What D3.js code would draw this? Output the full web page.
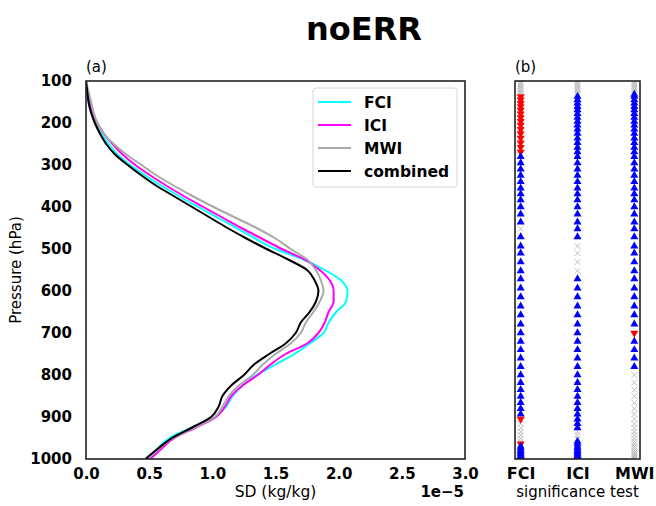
<!DOCTYPE html>
<html><head><meta charset="utf-8">
<script src="https://cdn.jsdelivr.net/npm/d3@7"></script>
<style>
body{margin:0;background:#fff;}
svg{font-family:"DejaVu Sans",sans-serif;}
</style></head>
<body><svg id="c" width="656" height="506"></svg>
<script>
// ---------- data ----------
const pressure = [100,125,150,175,200,225,250,275,300,325,350,375,400,425,450,475,500,525,550,575,600,625,650,675,700,725,750,775,800,825,850,875,900,925,950,975,1000];
const fci      = [0,0.01,0.02,0.04,0.08,0.12,0.18,0.25,0.35,0.47,0.60,0.74,0.89,1.04,1.19,1.34,1.50,1.72,1.89,2.02,2.07,2.06,1.98,1.92,1.88,1.77,1.65,1.50,1.35,1.24,1.16,1.11,1.02,0.84,0.66,0.57,0.50];
const ici      = [0,0.01,0.03,0.05,0.09,0.14,0.21,0.29,0.39,0.51,0.64,0.78,0.93,1.08,1.23,1.39,1.55,1.73,1.85,1.93,1.96,1.96,1.92,1.89,1.84,1.75,1.58,1.46,1.36,1.24,1.15,1.10,1.03,0.87,0.70,0.60,0.51];
const mwi      = [0,0.02,0.04,0.06,0.09,0.14,0.22,0.32,0.44,0.56,0.70,0.85,1.01,1.18,1.35,1.50,1.62,1.75,1.82,1.86,1.88,1.85,1.80,1.74,1.70,1.62,1.50,1.40,1.32,1.21,1.13,1.08,1.02,0.86,0.69,0.58,0.49];
const combined = [0,0.01,0.02,0.04,0.07,0.11,0.16,0.23,0.33,0.44,0.56,0.70,0.84,0.98,1.12,1.27,1.43,1.60,1.75,1.81,1.84,1.82,1.77,1.70,1.66,1.58,1.45,1.33,1.25,1.15,1.08,1.05,0.99,0.84,0.68,0.57,0.47];
const seriesNames  = ["FCI","ICI","MWI","combined"];
const seriesColors = ["#00ffff","#ff00ff","#a9a9a9","#000000"];
const xTicks = [0,0.5,1.0,1.5,2.0,2.5,3.0];
const yTicks = [100,200,300,400,500,600,700,800,900,1000];

// significance test levels (hPa) and result per instrument: u = blue up, d = red down, n = not significant
const sigLevels = [100,104,108,112,116,120,124,128,132,137,145,153,161,169,178,187,196,205,215,225,236,247,258,269,
  280,295,310,325,340,355,369,383,400,417,436,452,471,493,510,531,552,571,593,614,636,657,679,700,720,740,760,780,
  800,818,835,851,866,880,893,905,916,926,935,943,951,958,964,970,975,980,984,988,992,995,998,1000];
const sigFCI = "nnnnnnnnn" + "ddddddddddddddd" + "uuuuuuuuuuu" + "n" + "uuuuuuuuuuuuuuuuuuuuuuu" + "d" + "nnnnnn" + "d" + "uuuuuuuuuuuu";
const sigICI = "nnnnnnnnn" + "uuuuuuuuuuuuuuu" + "uuuuuuuuuuuu" + "u" + "nnnn" + "uuuuuuuuuuuuuuuuuu" + "uuu" + "nnn" + "uuuuuuuuuuuuuu";
const sigMWI = "nnnnnnnnu" + "uuuuuuuuuuuuuuu" + "uuuuuuuuuuuuuuuuuuuuuuu" + "d" + "uuuu" + "nnnnnnnnnnnnnnnnnnnnnnnn";
const sigCats = ["FCI","ICI","MWI"];
const sigData = [sigFCI, sigICI, sigMWI];

// ---------- drawing ----------
const svg = d3.select("#c");
const A = {l:86, r:465, t:81, b:459};
const B = {l:515, r:640, t:81, b:459};
const y = d3.scaleLinear().domain([100,1000]).range([A.t, A.b]);
const x = d3.scaleLinear().domain([0,3]).range([A.l, A.r]);

svg.append("text").attr("x",364).attr("y",40).attr("text-anchor","middle")
  .attr("font-size",32).attr("font-weight","bold").text("noERR");

const defs = svg.append("defs");
defs.append("clipPath").attr("id","ca").append("rect").attr("x",A.l).attr("y",A.t).attr("width",A.r-A.l).attr("height",A.b-A.t);
defs.append("clipPath").attr("id","cb").append("rect").attr("x",B.l).attr("y",B.t).attr("width",B.r-B.l).attr("height",B.b-B.t);

// panel a lines
const gA = svg.append("g").attr("clip-path","url(#ca)");
const allSeries = [fci, ici, mwi, combined];
const line = d3.line().x(d=>x(d[0])).y(d=>y(d[1])).curve(d3.curveMonotoneY);
allSeries.forEach((s,i)=>{
  gA.append("path").datum(s.map((v,j)=>[v,pressure[j]]))
    .attr("d",line).attr("fill","none").attr("stroke",seriesColors[i]).attr("stroke-width",2);
});

// axes panel a
const yAx = svg.append("g").attr("transform",`translate(${A.l},0)`)
  .call(d3.axisLeft(y).tickValues(yTicks).tickSize(0).tickPadding(14).tickFormat(d3.format("d")));
const xAx = svg.append("g").attr("transform",`translate(0,${A.b})`)
  .call(d3.axisBottom(x).tickValues(xTicks).tickSize(0).tickPadding(9).tickFormat(d3.format(".1f")));
[yAx,xAx].forEach(g=>{g.select(".domain").remove();
  g.selectAll("text").attr("font-size",15).attr("font-weight","bold").attr("fill","#000").attr("font-family","DejaVu Sans");});
svg.append("rect").attr("x",A.l).attr("y",A.t).attr("width",A.r-A.l).attr("height",A.b-A.t)
  .attr("fill","none").attr("stroke","#222").attr("stroke-width",1.6);

svg.append("text").attr("transform",`translate(21,${(A.t+A.b)/2}) rotate(-90)`).attr("text-anchor","middle")
  .attr("font-size",15).text("Pressure (hPa)");
svg.append("text").attr("x",(A.l+A.r)/2).attr("y",497).attr("text-anchor","middle").attr("font-size",15.5).text("SD (kg/kg)");
svg.append("text").attr("x",A.r-1).attr("y",497).attr("text-anchor","end").attr("font-size",15).attr("font-weight","bold").text("1e\u22125");
svg.append("text").attr("x",A.l).attr("y",72).attr("font-size",15).text("(a)");
svg.append("text").attr("x",B.l).attr("y",72).attr("font-size",15).text("(b)");

// legend
const lg = svg.append("g");
lg.append("rect").attr("x",313).attr("y",88).attr("width",144).attr("height",99).attr("rx",3)
  .attr("fill","#fff").attr("fill-opacity",0.8).attr("stroke","#d6d6d6").attr("stroke-width",1);
const legY = [102,125,148,171];
seriesNames.forEach((n,i)=>{
  lg.append("line").attr("x1",318).attr("x2",351).attr("y1",legY[i]).attr("y2",legY[i])
    .attr("stroke",seriesColors[i]).attr("stroke-width",2);
  lg.append("text").attr("x",364).attr("y",legY[i]).attr("dy","0.36em").attr("font-size",15.5)
    .attr("font-weight","bold").text(n);
});

// panel b
const xbPos = d3.scaleLinear().domain([-0.1,2.1]).range([B.l,B.r]);
const gB = svg.append("g").attr("clip-path","url(#cb)");
const tri = d3.symbol().type(d3.symbolTriangle).size(28);
sigCats.forEach((c,ci)=>{
  const cx = xbPos(ci);
  sigLevels.forEach((p,li)=>{
    if(sigData[ci][li]==="n"){
      const cy = y(p);
      gB.append("path").attr("d",`M${cx-2.8},${cy-2.8}L${cx+2.8},${cy+2.8}M${cx-2.8},${cy+2.8}L${cx+2.8},${cy-2.8}`)
        .attr("stroke","#b0b0b0").attr("stroke-width",0.8).attr("fill","none");
    }
  });
  sigLevels.forEach((p,li)=>{
    const code = sigData[ci][li];
    const cy = y(p);
    if(code==="u"){
      gB.append("path").attr("d",tri()).attr("transform",`translate(${cx},${cy})`).attr("fill","#0000ff");
    } else if(code==="d"){
      gB.append("path").attr("d",tri()).attr("transform",`translate(${cx},${cy}) rotate(180)`).attr("fill","#ff0000");
    }
  });
});
svg.append("rect").attr("x",B.l).attr("y",B.t).attr("width",B.r-B.l).attr("height",B.b-B.t)
  .attr("fill","none").attr("stroke","#222").attr("stroke-width",1.6);
const xbAx = svg.append("g").attr("transform",`translate(0,${B.b})`)
  .call(d3.axisBottom(xbPos).tickValues([0,1,2]).tickSize(0).tickPadding(9).tickFormat(i=>sigCats[i]));
xbAx.select(".domain").remove();
xbAx.selectAll("text").attr("font-size",16).attr("font-weight","bold").attr("fill","#000").attr("font-family","DejaVu Sans");
svg.append("text").attr("x",(B.l+B.r)/2).attr("y",497).attr("text-anchor","middle").attr("font-size",15).text("significance test");
</script></body></html>
